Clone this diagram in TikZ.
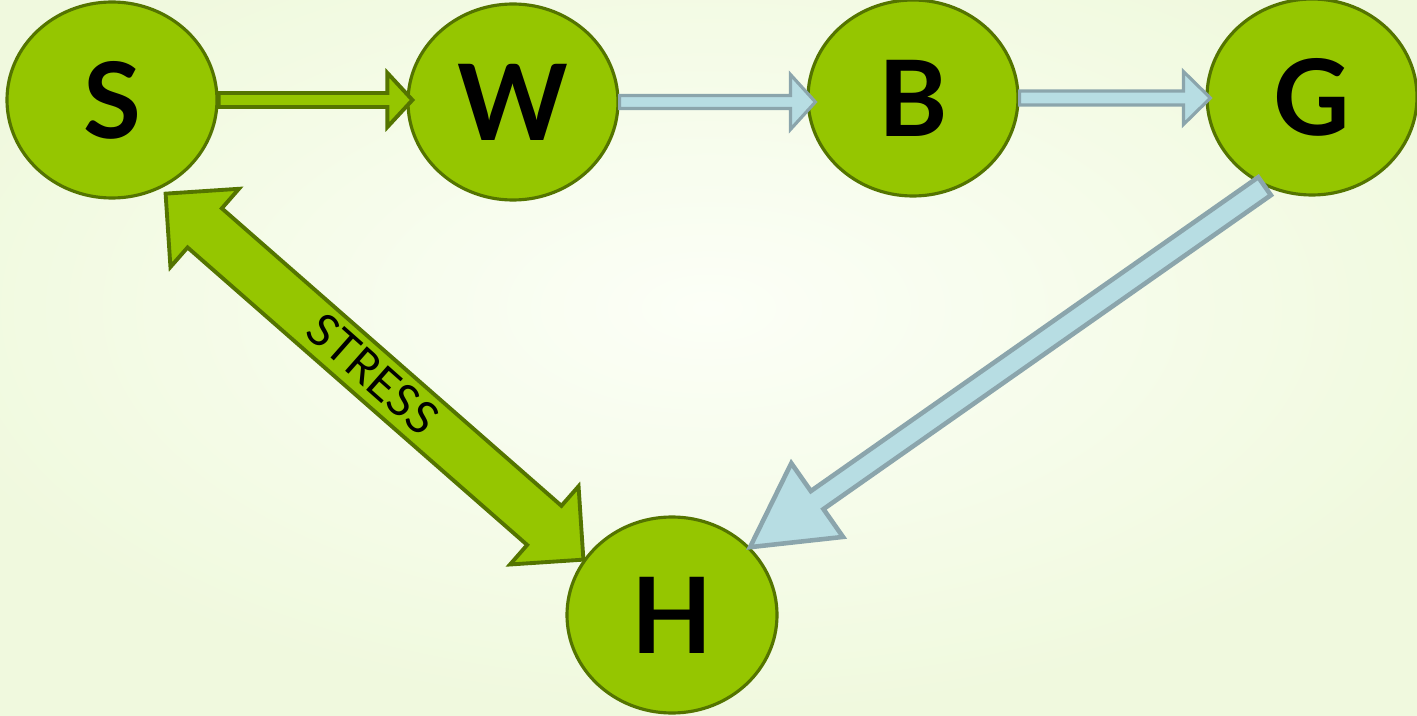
\documentclass[tikz,border=0pt]{standalone}
\usepackage{fontspec}
\setmainfont{Lato}
\usetikzlibrary{shapes.geometric,calc}

\definecolor{nodegreen}{RGB}{149,198,0}
\definecolor{nodeedge}{RGB}{84,116,0}
\definecolor{paleblue}{RGB}{183,221,227}
\definecolor{paleedge}{RGB}{139,165,172}
\definecolor{bgouter}{RGB}{240,249,222}
\definecolor{bginner}{RGB}{252,255,247}

% block arrow: [style]{from}{to}{shaft half width}{head half width}{head length}
\newcommand{\blockarrow}[6][]{%
    \coordinate (ba-a) at (#2);
    \coordinate (ba-b) at (#3);
    \coordinate (ba-c) at ($(ba-b)!#6!(ba-a)$);
    \draw[#1] ($(ba-a)!#4!90:(ba-b)$) -- ($(ba-c)!#4!90:(ba-b)$)
        -- ($(ba-c)!#5!90:(ba-b)$) -- (ba-b) -- ($(ba-c)!#5!-90:(ba-b)$)
        -- ($(ba-c)!#4!-90:(ba-b)$) -- ($(ba-a)!#4!-90:(ba-b)$) -- cycle;
}
% same, with a head at both ends
\newcommand{\blockdarrow}[6][]{%
    \coordinate (ba-a) at (#2);
    \coordinate (ba-b) at (#3);
    \coordinate (ba-c) at ($(ba-a)!#6!(ba-b)$);
    \coordinate (ba-d) at ($(ba-b)!#6!(ba-a)$);
    \draw[#1] (ba-a) -- ($(ba-c)!#5!90:(ba-b)$) -- ($(ba-c)!#4!90:(ba-b)$)
        -- ($(ba-d)!#4!90:(ba-b)$) -- ($(ba-d)!#5!90:(ba-b)$) -- (ba-b)
        -- ($(ba-d)!#5!-90:(ba-b)$) -- ($(ba-d)!#4!-90:(ba-b)$)
        -- ($(ba-c)!#4!-90:(ba-b)$) -- ($(ba-c)!#5!-90:(ba-b)$) -- cycle;
}

\begin{document}
\begin{tikzpicture}[
        letter/.style={
            ellipse,
            draw=nodeedge,
            line width=0.9pt,
            fill=nodegreen,
            minimum width=2.1cm,
            minimum height=1.96cm,
            inner sep=0pt,
            font=\fontsize{30}{30}\selectfont\bfseries
        },
        greenarrow/.style={
            fill=nodegreen,
            draw=nodeedge,
            line width=1.1pt
        },
        bluearrow/.style={
            fill=paleblue,
            draw=paleedge,
            line width=0.9pt
        }
    ]

    \useasboundingbox (0,0) rectangle (14.17,-7.16);
    \path[inner color=bginner, outer color=bgouter] (-1,1) rectangle (15.17,-7.16);

    \node[letter] (S) at (1.12,-1.00)  {S};
    \node[letter] (W) at (5.13,-1.02)  {W};
    \node[letter] (B) at (9.13,-0.98)  {B};
    \node[letter] (G) at (13.12,-0.97) {G};
    \node[letter] (H) at (6.72,-6.15)  {H};

    \blockarrow[greenarrow]{S.east}{$(S.east -| W.west)+(0.06,0)$}{0.07cm}{0.27cm}{0.25cm}
    \blockarrow[bluearrow]{W.east}{$(W.east -| B.west)+(0.09,0)$}{0.065cm}{0.275cm}{0.25cm}
    \blockarrow[bluearrow]{B.east}{$(B.east -| G.west)+(0.05,0)$}{0.07cm}{0.265cm}{0.27cm}
    \blockarrow[bluearrow, line width=1.3pt]{G.-118}{H.41}{0.11cm}{0.45cm}{0.82cm}
    \blockdarrow[greenarrow]{$(S.-60)+(0.03,-0.06)$}{H.148}{0.26cm}{0.52cm}{0.52cm}

    \path (S.-60) -- node[sloped, font=\fontsize{13}{13}\selectfont] {STRESS} (H.148);

    \end{tikzpicture}
\end{document}
